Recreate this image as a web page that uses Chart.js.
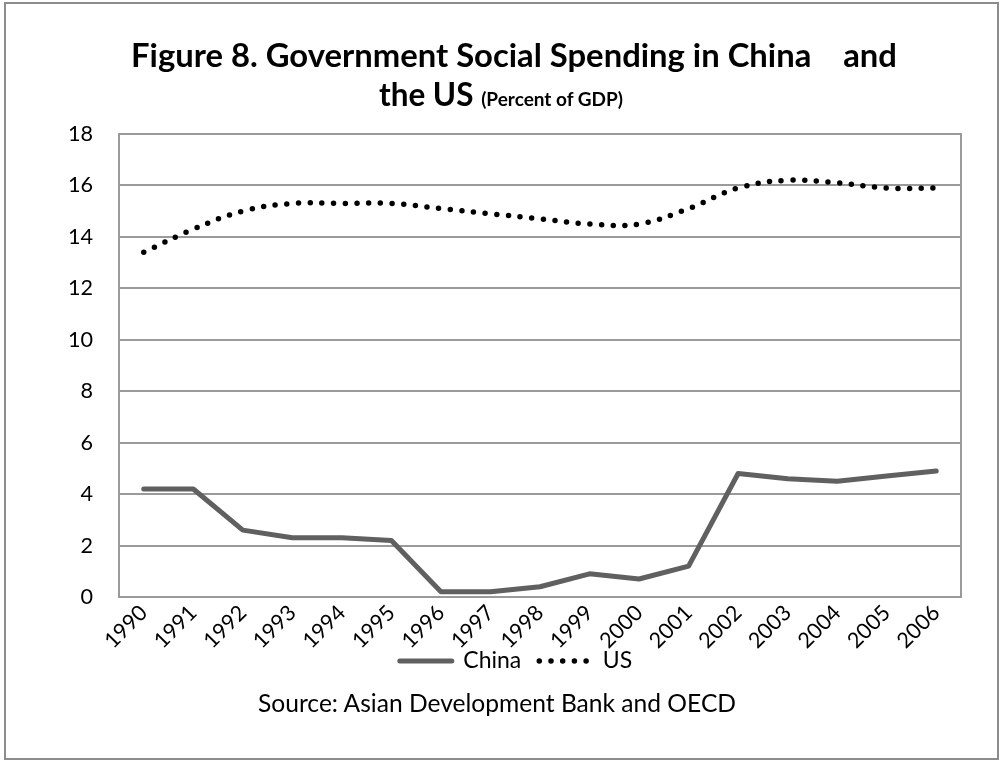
<!DOCTYPE html>
<html>
<head>
<meta charset="utf-8">
<script src="https://cdn.jsdelivr.net/npm/chart.js@4.4.1/dist/chart.umd.min.js"></script>
<style>
  html, body { margin: 0; padding: 0; background: #fff; }
  #wrap { position: relative; width: 1001px; height: 761px; }
  #frame { position: absolute; left: 4px; top: 2px; width: 995px; height: 758px; border: 2px solid #8c8c8c; box-sizing: border-box; }
  canvas { position: absolute; left: 0; top: 0; }
  .t { position: absolute; text-align: center; font-family: Lato, sans-serif; color: #000; white-space: pre; line-height: 1; }
  .b { font-weight: bold; }
</style>
</head>
<body>
<div id="wrap">
  <div id="frame"></div>
  <canvas id="c" width="1001" height="761"></canvas>
  <div class="t b" id="t1"></div>
  <div class="t b" id="t2"><span id="t2a"></span><span id="t2b"></span></div>
  <div class="t" id="src"></div>
</div>
<script>
const years = ["1990","1991","1992","1993","1994","1995","1996","1997","1998","1999","2000","2001","2002","2003","2004","2005","2006"];
const china = [4.2, 4.2, 2.6, 2.3, 2.3, 2.2, 0.2, 0.2, 0.4, 0.9, 0.7, 1.2, 4.8, 4.6, 4.5, 4.7, 4.9];
const us = [13.4, 14.3, 15.0, 15.3, 15.3, 15.3, 15.1, 14.9, 14.7, 14.5, 14.5, 15.1, 15.9, 16.2, 16.1, 15.9, 15.9];
const yTicks = [0, 2, 4, 6, 8, 10, 12, 14, 16, 18];
const seriesNames = ["China", "US"];
const titleLine1 = "Figure 8. Government Social Spending in China    and";
const titleLine2a = "the US ";
const titleLine2b = "(Percent of GDP)";
const sourceText = "Source: Asian Development Bank and OECD";

const FAMILY = 'Lato';
const FONT = 'Lato, sans-serif';
const GRID = '#9a9a9a';

// pick a font size so that a text reaches a given width
const mctx = document.createElement('canvas').getContext('2d');
function fitSize(text, weight, target) {
  mctx.font = weight + ' 100px ' + FAMILY;
  const w = mctx.measureText(text).width;
  return Math.round(100 * target / w * 10) / 10;
}

const titleSize = fitSize(titleLine1, 'bold', 766);
const line2Size = titleSize * 0.96;
const subSize = fitSize(titleLine2b, 'bold', 142);
const sourceSize = fitSize(sourceText, 'normal', 479);
const tickSize = fitSize("18", 'normal', 25);
const legendSize = fitSize("China", 'normal', 58);

function place(el, cx, cy, size, w) {
  el.style.fontSize = size + 'px';
  el.style.width = w + 'px';
  el.style.left = (cx - w / 2) + 'px';
  el.style.top = (cy - size * 0.55) + 'px';
}
const t1 = document.getElementById('t1');
t1.textContent = titleLine1;
place(t1, 514, 57, titleSize, 1000);
document.getElementById('t2a').textContent = titleLine2a;
document.getElementById('t2b').textContent = titleLine2b;
document.getElementById('t2b').style.fontSize = subSize + 'px';
place(document.getElementById('t2'), 501, 96, line2Size, 1000);
const src = document.getElementById('src');
src.textContent = sourceText;
place(src, 497, 705, sourceSize, 1000);

const plotBorder = {
  id: 'plotBorder',
  beforeDatasetsDraw(chart) {
    const a = chart.chartArea, ctx = chart.ctx;
    ctx.save();
    ctx.strokeStyle = GRID;
    ctx.lineWidth = 2;
    ctx.strokeRect(a.left, a.top, a.right - a.left, a.bottom - a.top);
    ctx.restore();
  }
};

const LPAD = 31;           // left canvas padding
const legendPad = 18;
const xAxisH = 661 - 597 - legendPad - legendSize / 2;
const legendH = legendSize + legendPad + 10;

new Chart(document.getElementById('c'), {
  type: 'line',
  data: {
    labels: years,
    datasets: [
      {
        label: seriesNames[0],
        data: china,
        borderColor: '#606060',
        backgroundColor: '#606060',
        borderWidth: 5,
        borderCapStyle: 'round',
        borderJoinStyle: 'round',
        pointRadius: 0,
        tension: 0
      },
      {
        label: seriesNames[1],
        data: us,
        borderColor: '#000000',
        backgroundColor: '#000000',
        borderWidth: 5.5,
        borderDash: [0, 11.7],
        borderCapStyle: 'round',
        pointRadius: 0,
        tension: 0.4
      }
    ]
  },
  options: {
    responsive: false,
    animation: false,
    devicePixelRatio: 1,
    layout: { padding: { left: LPAD, right: 0, top: 134, bottom: 761 - (597 + xAxisH + legendH) } },
    plugins: {
      legend: {
        position: 'bottom',
        labels: {
          usePointStyle: true,
          pointStyle: 'line',
          pointStyleWidth: 52,
          boxHeight: legendSize,
          color: '#000',
          font: { family: FONT, size: legendSize },
          padding: legendPad,
          generateLabels(chart) {
            const items = Chart.defaults.plugins.legend.labels.generateLabels(chart);
            items.forEach(it => {
              const ds = chart.data.datasets[it.datasetIndex];
              it.pointStyle = 'line';
              it.lineDash = ds.borderDash || [];
              it.lineCap = 'round';
              it.lineWidth = ds.borderWidth;
              it.strokeStyle = ds.borderColor;
              it.fillStyle = ds.borderColor;
            });
            return items;
          }
        }
      },
      title: { display: false },
      tooltip: { enabled: false }
    },
    scales: {
      x: {
        offset: true,
        grid: { display: false, drawTicks: false },
        border: { display: false },
        ticks: {
          color: '#000',
          font: { family: FONT, size: tickSize },
          maxRotation: 45,
          minRotation: 45,
          padding: 3,
          autoSkip: false
        },
        afterFit(scale) {
          scale.height = xAxisH;
          scale._computeLabelArea = () => null;   // let the slanted labels run below the axis box
        }
      },
      y: {
        min: 0,
        max: 18,
        afterBuildTicks(scale) { scale.ticks = yTicks.map(v => ({ value: v })); },
        grid: { color: GRID, lineWidth: 2, drawTicks: false },
        border: { display: false },
        ticks: {
          color: '#000',
          font: { family: FONT, size: tickSize },
          padding: 26
        },
        afterFit(scale) { scale.width = 119 - LPAD; }
      },
      yRight: {
        position: 'right',
        min: 0,
        max: 18,
        grid: { display: false, drawTicks: false },
        border: { display: false },
        ticks: { display: false },
        afterFit(scale) { scale.width = 1001 - 961; }
      }
    }
  },
  plugins: [plotBorder]
});
</script>
</body>
</html>
